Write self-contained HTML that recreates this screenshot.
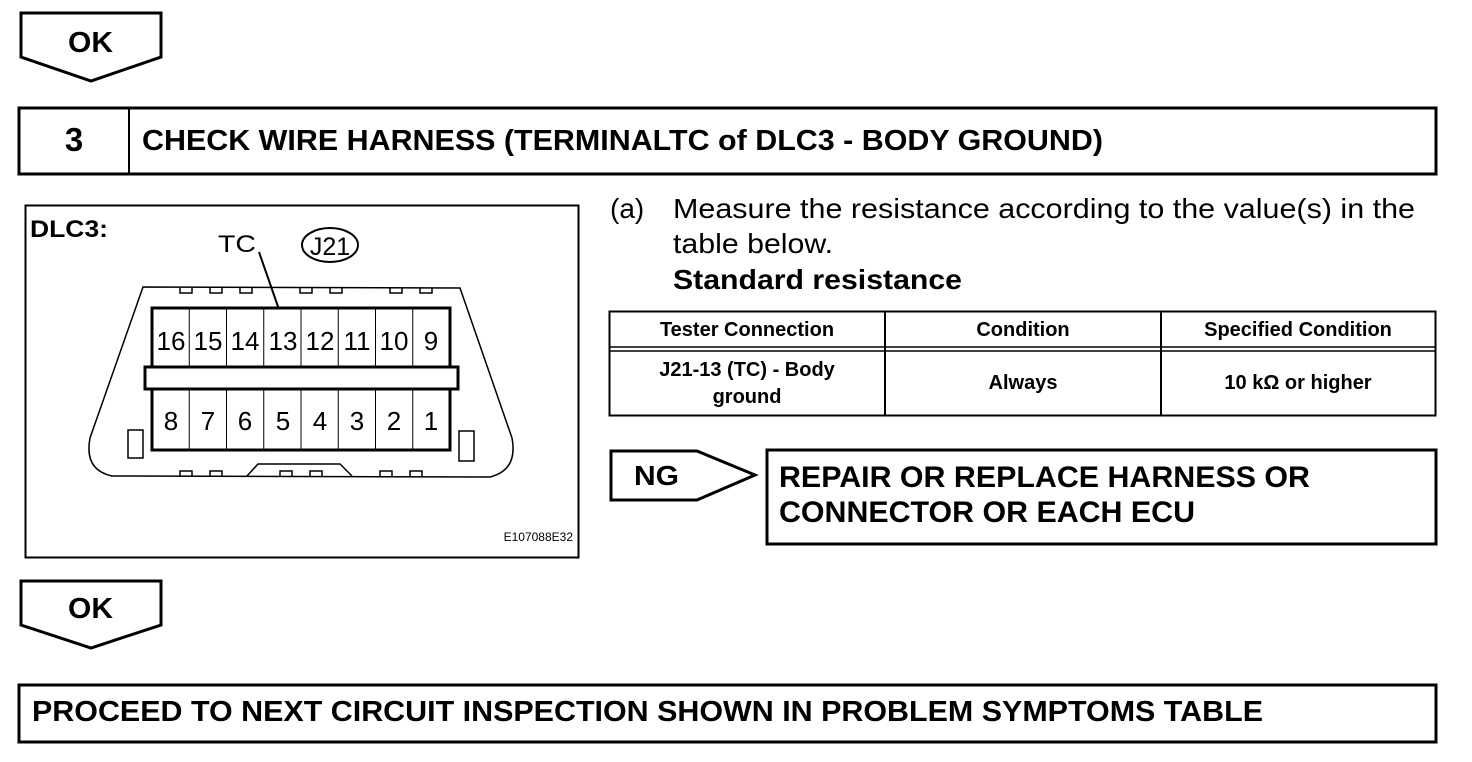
<!DOCTYPE html>
<html><head><meta charset="utf-8"><style>
html,body{margin:0;padding:0;background:#fff;}
svg{display:block;}
text{font-family:"Liberation Sans",Arial,sans-serif;fill:#000;}
.b{font-weight:bold;}
</style></head><body>
<svg width="1472" height="762" viewBox="0 0 1472 762" xmlns="http://www.w3.org/2000/svg">
<!-- top OK -->
<polygon points="21,13 161,13 161,57 91,81 21,57" fill="none" stroke="#000" stroke-width="3"/>
<text x="68" y="52" class="b" font-size="29" textLength="45" lengthAdjust="spacingAndGlyphs">OK</text>
<!-- header -->
<rect x="19" y="108" width="1417" height="66" fill="none" stroke="#000" stroke-width="3"/>
<line x1="129" y1="108" x2="129" y2="174" stroke="#000" stroke-width="2"/>
<text x="74" y="151" class="b" font-size="33" text-anchor="middle">3</text>
<text x="142" y="150" class="b" font-size="29" textLength="961" lengthAdjust="spacingAndGlyphs">CHECK WIRE HARNESS (TERMINALTC of DLC3 - BODY GROUND)</text>
<!-- diagram box -->
<rect x="25.5" y="205.5" width="553" height="352" fill="none" stroke="#000" stroke-width="2"/>
<text x="30" y="237" class="b" font-size="24" textLength="78" lengthAdjust="spacingAndGlyphs">DLC3:</text>
<text x="218" y="252" font-size="24" textLength="38" lengthAdjust="spacingAndGlyphs">TC</text>
<line x1="259" y1="252" x2="283" y2="321" stroke="#000" stroke-width="2"/>
<ellipse cx="330" cy="245" rx="28" ry="17" fill="none" stroke="#000" stroke-width="2"/>
<text x="330" y="255" font-size="25" text-anchor="middle">J21</text>
<!-- outer shell -->
<path d="M143,287 L460,288 L512,438 Q518,470 490,477 L112,476 Q84,470 90,438 Z" fill="none" stroke="#000" stroke-width="1.5"/>
<path d="M180,288 v5 h12 v-5 M210,288 v5 h12 v-5 M240,288 v5 h12 v-5 M300,288 v5 h12 v-5 M330,288 v5 h12 v-5 M390,288 v5 h12 v-5 M420,288 v5 h12 v-5" fill="none" stroke="#000" stroke-width="1.5"/>
<path d="M180,476 v-5 h12 v5 M210,476 v-5 h12 v5 M280,476 v-5 h12 v5 M310,476 v-5 h12 v5 M380,476 v-5 h12 v5 M410,476 v-5 h12 v5" fill="none" stroke="#000" stroke-width="1.5"/>
<path d="M247,476 L258,464 L340,464 L352,476" fill="none" stroke="#000" stroke-width="1.5"/>
<rect x="128" y="430" width="15" height="28" fill="none" stroke="#000" stroke-width="1.5"/>
<rect x="459" y="431" width="15" height="30" fill="none" stroke="#000" stroke-width="1.5"/>
<!-- pin rows -->
<rect x="152" y="308" width="298" height="59" fill="#fff" stroke="#000" stroke-width="3"/>
<rect x="152" y="389" width="298" height="61" fill="#fff" stroke="#000" stroke-width="3"/>
<rect x="145" y="367" width="313" height="22" fill="#fff" stroke="#000" stroke-width="3"/>
<g stroke="#000" stroke-width="1">
<line x1="189.25" y1="308" x2="189.25" y2="367"/><line x1="226.5" y1="308" x2="226.5" y2="367"/><line x1="263.75" y1="308" x2="263.75" y2="367"/><line x1="301" y1="308" x2="301" y2="367"/><line x1="338.25" y1="308" x2="338.25" y2="367"/><line x1="375.5" y1="308" x2="375.5" y2="367"/><line x1="412.75" y1="308" x2="412.75" y2="367"/>
<line x1="189.25" y1="389" x2="189.25" y2="450"/><line x1="226.5" y1="389" x2="226.5" y2="450"/><line x1="263.75" y1="389" x2="263.75" y2="450"/><line x1="301" y1="389" x2="301" y2="450"/><line x1="338.25" y1="389" x2="338.25" y2="450"/><line x1="375.5" y1="389" x2="375.5" y2="450"/><line x1="412.75" y1="389" x2="412.75" y2="450"/>
</g>
<g font-size="26" text-anchor="middle">
<text x="171" y="350">16</text><text x="208" y="350">15</text><text x="245" y="350">14</text><text x="283" y="350">13</text><text x="320" y="350">12</text><text x="357" y="350">11</text><text x="394" y="350">10</text><text x="431" y="350">9</text>
<text x="171" y="430">8</text><text x="208" y="430">7</text><text x="245" y="430">6</text><text x="283" y="430">5</text><text x="320" y="430">4</text><text x="357" y="430">3</text><text x="394" y="430">2</text><text x="431" y="430">1</text>
</g>
<text x="573" y="541" font-size="12" text-anchor="end">E107088E32</text>
<!-- right text -->
<text x="610" y="218" font-size="28">(a)</text>
<text x="673" y="218" font-size="28" textLength="742" lengthAdjust="spacingAndGlyphs">Measure the resistance according to the value(s) in the</text>
<text x="673" y="253" font-size="28" textLength="160" lengthAdjust="spacingAndGlyphs">table below.</text>
<text x="673" y="289" class="b" font-size="28" textLength="289" lengthAdjust="spacingAndGlyphs">Standard resistance</text>
<!-- table -->
<rect x="609.5" y="311.5" width="826" height="104" fill="none" stroke="#000" stroke-width="2"/>
<line x1="885" y1="311" x2="885" y2="416" stroke="#000" stroke-width="2"/>
<line x1="1161" y1="311" x2="1161" y2="416" stroke="#000" stroke-width="2"/>
<line x1="609" y1="347" x2="1436" y2="347" stroke="#000" stroke-width="1.5"/>
<line x1="609" y1="351" x2="1436" y2="351" stroke="#000" stroke-width="1.5"/>
<g class="b" font-size="20" text-anchor="middle">
<text x="747" y="336">Tester Connection</text><text x="1023" y="336">Condition</text><text x="1298" y="336">Specified Condition</text>
<text x="747" y="376">J21-13 (TC) - Body</text><text x="747" y="403">ground</text>
<text x="1023" y="389">Always</text><text x="1298" y="389">10 kΩ or higher</text>
</g>
<!-- NG -->
<polygon points="611,451 697,451 755,475 697,500 611,500" fill="none" stroke="#000" stroke-width="3"/>
<text x="634" y="485" class="b" font-size="28" textLength="45" lengthAdjust="spacingAndGlyphs">NG</text>
<rect x="767" y="450" width="669" height="94" fill="#fff" stroke="#000" stroke-width="3"/>
<text x="779" y="487" class="b" font-size="30" textLength="531" lengthAdjust="spacingAndGlyphs">REPAIR OR REPLACE HARNESS OR</text>
<text x="779" y="522" class="b" font-size="30" textLength="416" lengthAdjust="spacingAndGlyphs">CONNECTOR OR EACH ECU</text>
<!-- bottom OK -->
<polygon points="21,581 161,581 161,625 91,648 21,625" fill="none" stroke="#000" stroke-width="3"/>
<text x="68" y="618" class="b" font-size="29" textLength="45" lengthAdjust="spacingAndGlyphs">OK</text>
<rect x="19" y="685" width="1417" height="57" fill="none" stroke="#000" stroke-width="3"/>
<text x="32" y="721" class="b" font-size="29" textLength="1231" lengthAdjust="spacingAndGlyphs">PROCEED TO NEXT CIRCUIT INSPECTION SHOWN IN PROBLEM SYMPTOMS TABLE</text>
</svg>
</body></html>
